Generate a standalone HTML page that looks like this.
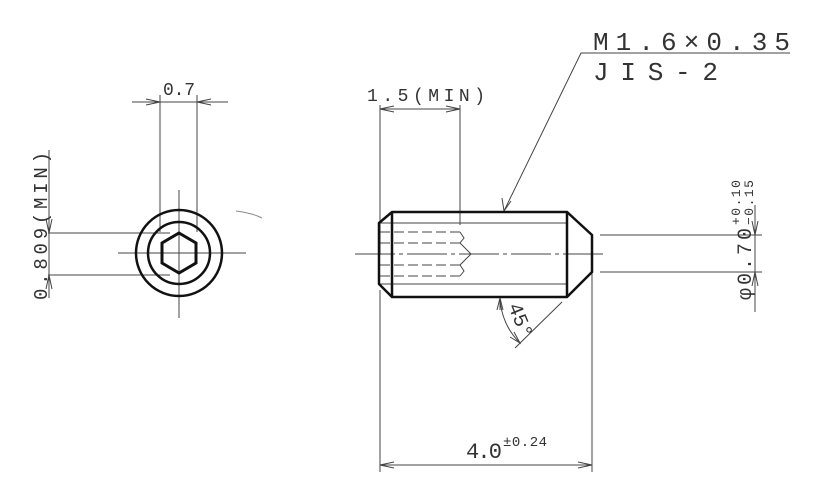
<!DOCTYPE html>
<html><head><style>body{margin:0;background:#fff}svg{display:block}text{font-family:"Liberation Mono","DejaVu Sans Mono",monospace;fill:#333}</style></head>
<body>
<svg width="826" height="500" viewBox="0 0 826 500" xmlns="http://www.w3.org/2000/svg">
<g stroke="#444" stroke-width="1" fill="none">
<line x1="179" y1="190" x2="179" y2="318"/>
<line x1="118" y1="253" x2="246" y2="253"/>
<line x1="160" y1="95" x2="160" y2="232"/>
<line x1="197" y1="95" x2="197" y2="232"/>
<line x1="132" y1="102" x2="228" y2="102"/>
<polyline points="146,99 160,102 146,105"/><polyline points="211,99 197,102 211,105"/>
<line x1="48" y1="233" x2="170" y2="233"/>
<line x1="48" y1="275" x2="170" y2="275"/>
<line x1="49" y1="150" x2="49" y2="298"/>
<polyline points="46,219 49,233 52,219"/><polyline points="46,289 49,275 52,289"/>
<path d="M236,211 Q252,213 262,218" stroke="#888"/>
<line x1="380" y1="105" x2="380" y2="255"/>
<line x1="460" y1="105" x2="460" y2="225"/>
<line x1="380" y1="109" x2="460" y2="109"/>
<polyline points="394,106 380,109 394,112"/><polyline points="446,106 460,109 446,112"/>
<line x1="380" y1="290" x2="380" y2="472"/>
<line x1="592" y1="272" x2="592" y2="472"/>
<line x1="380" y1="465" x2="592" y2="465"/>
<polyline points="394,462 380,465 394,468"/><polyline points="578,462 592,465 578,468"/>
<line x1="600" y1="235" x2="762" y2="235"/>
<line x1="600" y1="272" x2="762" y2="272"/>
<line x1="755" y1="205" x2="755" y2="312"/>
<polyline points="752,221 755,235 758,221"/><polyline points="752,286 755,272 758,286"/>
<line x1="355" y1="254" x2="605" y2="254" stroke-dasharray="40,4,4,4"/>
<polyline points="790,53 581,53 504,211"/>
<polyline points="502,198 504,211 511,201"/>
<line x1="500" y1="298" x2="500" y2="310"/>
<line x1="515" y1="348" x2="562" y2="302"/>
<path d="M500,298 A67,67 0 0 0 520,343"/>
<polyline points="497,310 500,298 503,310"/><polyline points="510,337 520,343 514,332"/>
<line x1="379" y1="223" x2="567" y2="223"/>
<line x1="379" y1="284" x2="567" y2="284"/>
<g stroke-dasharray="10,4">
<line x1="380" y1="232" x2="460" y2="232"/><line x1="380" y1="243" x2="460" y2="243"/>
<line x1="380" y1="265" x2="460" y2="265"/><line x1="380" y1="276" x2="460" y2="276"/>
</g>
<polyline points="460,232 464,238 460,243 471,254 460,265 464,271 460,276"/>
</g>
<g stroke="#111" stroke-width="2.5" fill="none">
<circle cx="179" cy="253" r="43"/>
<circle cx="179" cy="253" r="31"/>
<polygon points="179,233 196,243 196,263 179,273 162,263 162,243" stroke-width="3"/>
<polygon points="392,212 567,212 592,235 592,272 567,297 392,297 379,284 379,223"/>
<line x1="392" y1="212" x2="392" y2="297"/>
<line x1="567" y1="212" x2="567" y2="297"/>
</g>
<text x="593" y="50" font-size="26" textLength="197">M1.6×0.35</text>
<text x="593" y="80" font-size="26" textLength="125">JIS-2</text>
<text x="367" y="101" font-size="18" textLength="118">1.5(MIN)</text>
<text x="163" y="95" font-size="18" textLength="32">0.7</text>
<text x="466" y="458" font-size="22" textLength="36">4.0</text>
<text x="503" y="446" font-size="14" textLength="44">±0.24</text>
<text transform="translate(47,300) rotate(-90)" font-size="19" textLength="148">0.809(MIN)</text>
<text transform="translate(751,300) rotate(-90)" font-size="20" textLength="72">φ0.70</text>
<text transform="translate(740,225) rotate(-90)" font-size="13" textLength="45">+0.10</text>
<text transform="translate(753,225) rotate(-90)" font-size="13" textLength="45">−0.15</text>
<text transform="translate(508,306) rotate(68)" font-size="20">45°</text>
</svg>
</body></html>
